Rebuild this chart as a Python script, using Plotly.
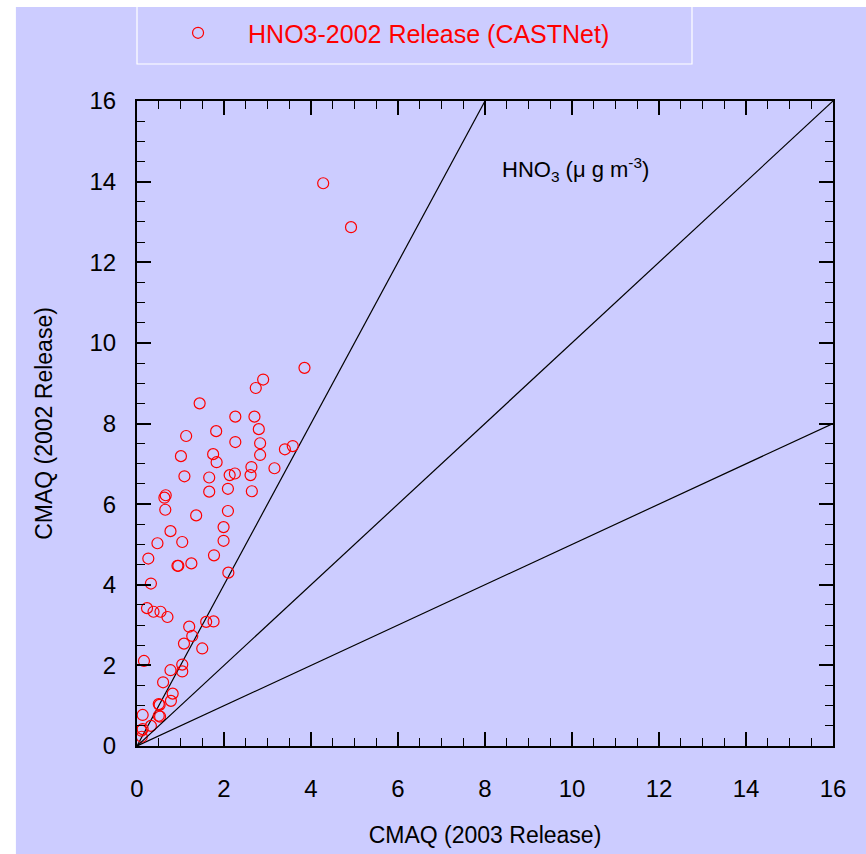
import plotly.graph_objects as go

# Data
cmaq_2003 = [3.85, 2.90, 2.73, 1.44, 2.26, 2.70, 2.80, 1.82, 1.13, 2.26, 2.83, 3.40, 3.58, 2.83,
             1.01, 1.75, 1.83, 2.63, 3.16, 1.09, 1.66, 2.13, 2.25, 2.61, 1.66, 2.09, 2.64, 0.66,
             0.63, 0.65, 1.36, 2.09, 0.77, 1.99, 0.47, 1.04, 1.99, 0.26, 1.77, 0.93, 0.95, 1.25,
             2.10, 0.32, 0.23, 0.38, 0.54, 0.70, 1.20, 1.59, 1.76, 1.27, 1.08, 1.50, 0.16, 1.04,
             1.04, 0.77, 0.60, 0.82, 0.78, 0.50, 0.52, 0.13, 0.50, 0.53, 0.32, 0.13, 0.10, 0.11,
             4.28, 4.92]
cmaq_2002 = [9.38, 9.09, 8.88, 8.50, 8.17, 8.17, 7.86, 7.81, 7.69, 7.54, 7.51, 7.36, 7.44, 7.22,
             7.19, 7.24, 7.04, 6.92, 6.89, 6.69, 6.66, 6.72, 6.76, 6.72, 6.31, 6.38, 6.32, 6.22,
             6.16, 5.86, 5.72, 5.83, 5.33, 5.43, 5.03, 5.06, 5.09, 4.65, 4.73, 4.47, 4.47, 4.53,
             4.30, 4.03, 3.42, 3.33, 3.33, 3.20, 2.96, 3.08, 3.09, 2.73, 2.54, 2.42, 2.11, 2.02,
             1.85, 1.88, 1.58, 1.30, 1.12, 1.04, 1.02, 0.77, 0.75, 0.73, 0.50, 0.42, 0.38, 0.23,
             13.96, 12.87]

ref_slopes = [2.0, 1.0, 0.5]          # 2:1, 1:1, 1:2 reference lines
axis_max = 16
series_name = "HNO3-2002 Release (CASTNet)"
x_title = "CMAQ (2003 Release)"
y_title = "CMAQ (2002 Release)"

BG = "#CCCCFF"
FONT = "Liberation Sans, Arial, sans-serif"

fig = go.Figure()

for i, s in enumerate(ref_slopes):
    xe = min(axis_max, axis_max / s)
    fig.add_trace(go.Scatter(x=[0, xe], y=[0, s * xe], mode="lines",
                             line=dict(color="black", width=1.2),
                             showlegend=False, hoverinfo="skip",
                             xaxis="x2" if i == 1 else "x", yaxis="y2" if i == 1 else "y"))

fig.add_trace(go.Scatter(x=cmaq_2003, y=cmaq_2002, mode="markers", name=series_name,
                         marker=dict(symbol="circle-open", size=11, color="#FF0000",
                                     line=dict(width=1.2, color="#FF0000"))))

tick_common = dict(range=[0, axis_max], tick0=0, dtick=2, ticks="inside", ticklen=14,
                   tickwidth=1.5, tickcolor="black", showgrid=False, zeroline=False,
                   minor=dict(dtick=0.5, ticks="inside", ticklen=8, tickwidth=1,
                              tickcolor="black"))
main_common = dict(**tick_common, showline=True, linecolor="black", linewidth=2,
                   mirror=True, tickfont=dict(family=FONT, size=24, color="black"))
mirror_common = dict(**tick_common, showline=False, showticklabels=False)

fig.update_layout(
    width=866, height=854,
    margin=dict(l=137, r=33, t=101, b=108, pad=0, autoexpand=False),
    paper_bgcolor=BG, plot_bgcolor=BG,
    xaxis=dict(**main_common, ticklabelstandoff=20,
               title=dict(text=x_title, font=dict(family=FONT, size=23, color="black"),
                          standoff=26)),
    yaxis=dict(**main_common, ticklabelstandoff=14,
               title=dict(text=y_title, font=dict(family=FONT, size=23, color="black"),
                          standoff=30)),
    xaxis2=dict(**mirror_common, overlaying="x", side="top", anchor="y"),
    yaxis2=dict(**mirror_common, overlaying="y", side="right", anchor="x"),
    legend=dict(x=0.0015, y=1.141, xanchor="left", yanchor="top", bgcolor="rgba(0,0,0,0)",
                borderwidth=0,
                font=dict(family=FONT, size=25, color="#FF0000"),
                itemwidth=90, indentation=10),
    showlegend=True,
    annotations=[dict(x=8.34, y=14.3, xref="x", yref="y", xanchor="left", yanchor="middle",
                      text="HNO<sub>3</sub> (μ g m<sup>-3</sup>)", showarrow=False,
                      font=dict(family=FONT, size=22, color="black"))],
    shapes=[
        dict(type="rect", xref="paper", yref="paper", x0=0, x1=0.7974, y0=1.0574, y1=1.1504,
             fillcolor="rgba(0,0,0,0)", line=dict(width=1.2, color="white"), layer="below"),
        dict(type="rect", xref="paper", yref="paper", x0=-0.25, x1=-0.174, y0=-0.3, y1=1.3,
             fillcolor="white", line=dict(width=0), layer="below"),
        dict(type="rect", xref="paper", yref="paper", x0=-0.25, x1=1.2, y0=1.1457, y1=1.3,
             fillcolor="white", line=dict(width=0), layer="below"),
    ],
)

fig.write_html("out.html")
